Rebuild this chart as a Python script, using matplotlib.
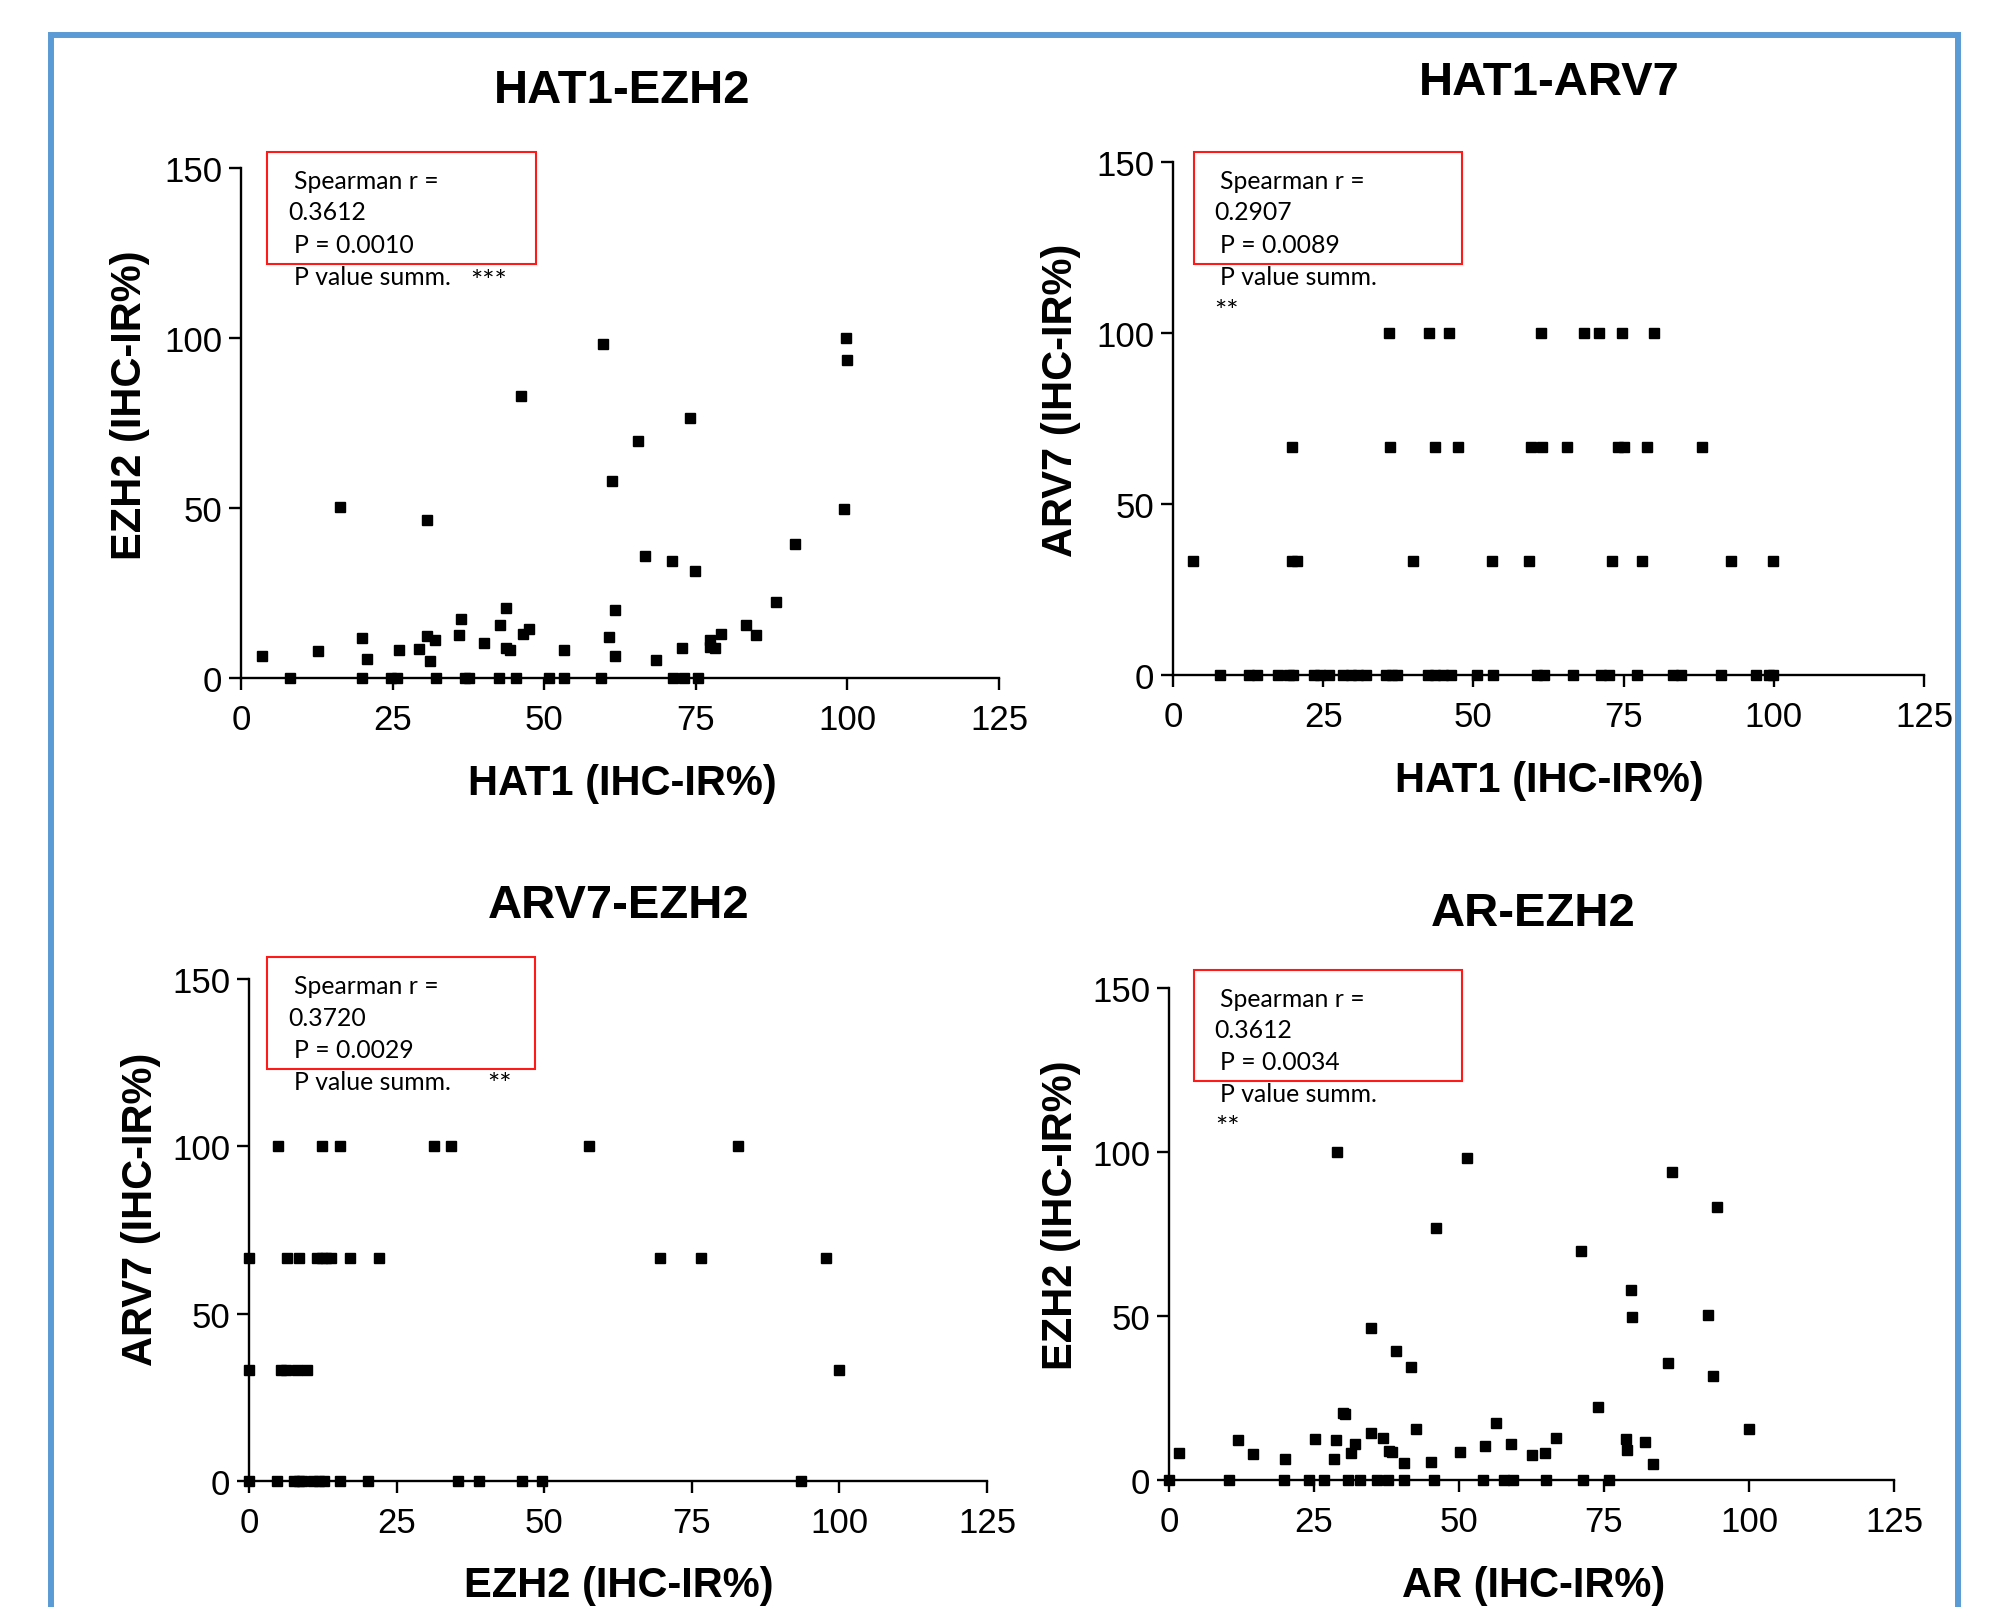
import matplotlib
matplotlib.use("Agg")
import matplotlib.pyplot as plt
from matplotlib.patches import Rectangle

# ---------------- data ----------------
# Panel 1: HAT1 vs EZH2
hat1_a = [3.4, 8.0, 12.7, 16.3, 19.9, 19.9, 20.7, 24.8, 25.8, 26.1,
          29.3, 30.6, 30.7, 31.1, 32.0, 32.2, 35.9, 36.2, 37.0, 37.6,
          40.0, 42.5, 42.7, 43.7, 43.7, 44.4, 45.3, 46.1, 46.5, 47.5,
          50.8, 53.2, 53.3, 59.4, 59.7, 60.7, 61.1, 61.7, 61.7, 65.5,
          66.7, 68.5, 71.1, 71.3, 72.8, 73.1, 74.0, 74.8, 75.3, 77.4,
          77.4, 78.2, 79.1, 83.3, 84.9, 88.2, 91.3, 99.4, 99.8, 100.0]
ezh2_a = [6.5, 0, 7.9, 50.3, 11.7, 0, 5.7, 0, 0, 8.2,
          8.4, 12.4, 46.5, 4.9, 11.1, 0, 12.7, 17.4, 0, 0,
          10.3, 0, 15.5, 20.6, 8.8, 8.3, 0, 83.0, 13.0, 14.4,
          0, 8.3, 0, 0, 98.1, 12.1, 57.9, 20.1, 6.5, 69.7,
          35.8, 5.2, 34.5, 0, 8.8, 0, 76.6, 31.6, 0, 11.1,
          9.0, 8.7, 13.0, 15.5, 12.6, 22.4, 39.3, 49.6, 100.0, 93.6]

# Panel 2: HAT1 vs ARV7
hat1_b_100 = [35.9, 42.6, 45.9, 61.2, 68.4, 70.9, 74.7, 80.1]
hat1_b_67 = [19.8, 36.1, 43.6, 47.4, 59.6, 61.5, 65.5, 74.0, 75.0, 78.9, 88.1]
hat1_b_33 = [3.3, 19.8, 20.6, 39.9, 53.1, 59.2, 73.0, 78.1, 92.8, 99.8]
hat1_b_0 = [7.8, 12.7, 14.0, 17.4, 19.3, 20.0, 23.4, 24.5, 25.9, 28.3,
            29.6, 30.8, 32.2, 35.4, 36.4, 37.3, 42.4, 43.6, 45.0, 46.3,
            50.6, 53.2, 60.6, 61.7, 66.5, 71.2, 72.6, 77.2, 83.2, 84.6,
            91.2, 97.1, 99.2, 99.9]
arv7_levels = [100.0, 66.7, 33.3, 0.0]

# Panel 3: EZH2 vs ARV7
ezh2_c_100 = [4.9, 12.4, 15.4, 31.3, 34.2, 57.6, 82.8]
ezh2_c_67 = [0, 6.4, 8.5, 11.5, 12.3, 13.0, 13.9, 17.1, 22.0, 69.6, 76.6, 97.8]
ezh2_c_33 = [0, 5.5, 6.3, 8.2, 9.9, 100.0]
ezh2_c_0 = [0, 4.7, 7.6, 8.4, 9.0, 10.9, 11.9, 12.7, 15.4, 20.1,
            35.4, 38.9, 46.2, 49.6, 93.5]

# Panel 4: AR vs EZH2
ar_d = [0, 1.7, 10.4, 11.9, 14.5, 19.8, 20.0, 24.1, 25.2, 26.7,
        28.5, 28.8, 29.0, 30.0, 30.4, 30.9, 31.3, 32.1, 32.9, 34.8,
        34.9, 35.8, 36.9, 37.7, 38.0, 38.5, 39.1, 40.5, 40.6, 41.8,
        42.6, 45.1, 45.7, 46.1, 50.1, 51.3, 54.2, 54.5, 56.4, 57.8,
        58.9, 59.3, 62.6, 64.9, 65.0, 66.7, 71.0, 71.4, 73.9, 75.9,
        78.8, 78.9, 79.7, 79.9, 82.0, 83.5, 86.1, 86.8, 93.0, 93.8,
        94.5, 100.0]
ezh2_d = [0, 8.3, 0, 12.1, 8.0, 0, 6.5, 0, 12.6, 0,
          6.5, 12.3, 100.0, 20.5, 20.0, 0, 8.3, 10.9, 0, 46.4,
          14.2, 0, 12.9, 0, 8.9, 8.6, 39.3, 5.1, 0, 34.4,
          15.5, 5.6, 0, 76.8, 8.6, 98.2, 0, 10.3, 17.4, 0,
          10.9, 0, 7.7, 8.3, 0, 12.9, 69.8, 0, 22.2, 0,
          12.6, 9.1, 57.9, 49.7, 11.5, 4.8, 35.6, 93.9, 50.2, 31.6,
          83.1, 15.5]

titles = ["HAT1-EZH2", "HAT1-ARV7", "ARV7-EZH2", "AR-EZH2"]
xlabels = ["HAT1 (IHC-IR%)", "HAT1 (IHC-IR%)", "EZH2 (IHC-IR%)", "AR (IHC-IR%)"]
ylabels = ["EZH2 (IHC-IR%)", "ARV7 (IHC-IR%)", "ARV7 (IHC-IR%)", "EZH2 (IHC-IR%)"]
spearman_r = ["0.3612", "0.2907", "0.3720", "0.3612"]
p_values = ["0.0010", "0.0089", "0.0029", "0.0034"]
p_summ = ["***", "**", "**", "**"]
xticks = [0, 25, 50, 75, 100, 125]
yticks = [0, 50, 100, 150]

# ---------------- figure ----------------
W, H = 2006, 1608
fig = plt.figure(figsize=(W / 100, H / 100), dpi=100)
plt.rcParams["font.family"] = ["Liberation Sans", "DejaVu Sans"]

def fx(px):
    return px / W

def fy(py):
    return 1 - py / H

# axes boxes in pixels: left, right, bottom, top
boxes = [(241, 999, 679, 169), (1173, 1924, 676, 163),
         (249, 987, 1482, 980), (1169, 1894, 1481, 989)]
title_pos = [(0.503, 1.153), (0.501, 1.155), (0.501, 1.147), (0.503, 1.153)]
xlab_pos = [(0.503, -0.206), (0.501, -0.204), (0.501, -0.207), (0.503, -0.213)]
ylab_pos = [(-0.146, 0.537), (-0.149, 0.538), (-0.147, 0.544), (-0.149, 0.541)]

series_x = [hat1_a,
            hat1_b_100 + hat1_b_67 + hat1_b_33 + hat1_b_0,
            ezh2_c_100 + ezh2_c_67 + ezh2_c_33 + ezh2_c_0,
            ar_d]
series_y = [ezh2_a,
            [arv7_levels[0]] * len(hat1_b_100) + [arv7_levels[1]] * len(hat1_b_67)
            + [arv7_levels[2]] * len(hat1_b_33) + [arv7_levels[3]] * len(hat1_b_0),
            [arv7_levels[0]] * len(ezh2_c_100) + [arv7_levels[1]] * len(ezh2_c_67)
            + [arv7_levels[2]] * len(ezh2_c_33) + [arv7_levels[3]] * len(ezh2_c_0),
            ezh2_d]

for i, (l, r, b, t) in enumerate(boxes):
    ax = fig.add_axes([fx(l), fy(b), (r - l) / W, (b - t) / H])
    ax.plot(series_x[i], series_y[i], "s", color="black", ms=6.5,
            mec="black", clip_on=False, zorder=5)
    ax.set_xlim(0, 125)
    ax.set_ylim(0, 150)
    ax.set_xticks(xticks)
    ax.set_yticks(yticks)
    for s in ["top", "right"]:
        ax.spines[s].set_visible(False)
    for s in ["left", "bottom"]:
        ax.spines[s].set_linewidth(1.7)
    ax.tick_params(direction="out", length=8.5, width=1.7, labelsize=25)
    ax.tick_params(axis="x", pad=9.5)
    ax.tick_params(axis="y", pad=5)
    ax.set_title(titles[i], x=title_pos[i][0], y=title_pos[i][1], pad=0,
                 va="center", fontsize=34, fontweight="bold")
    ax.set_xlabel(xlabels[i], fontsize=30, fontweight="bold", va="center")
    ax.xaxis.set_label_coords(*xlab_pos[i])
    ax.set_ylabel(ylabels[i], fontsize=30, fontweight="bold", va="center", ha="center")
    ax.yaxis.set_label_coords(*ylab_pos[i])

# ---------------- stats annotation boxes ----------------
red_boxes = [(267, 536, 153, 265), (1194, 1462, 153, 265),
             (267, 535, 958, 1070), (1194, 1462, 971, 1082)]
line_base = [(189, 220, 253, 285), (189, 220, 253, 285),
             (994, 1026, 1058, 1090), (1007, 1038, 1070, 1102)]
text_x = [(294, 288), (1220, 1214), (294, 288), (1220, 1214)]
star_pos = [(470, 291), (1214, 321), (487, 1094), (1215, 1137)]
afont = ["Lato", "DejaVu Sans"]
afs = 17.8

for i in range(4):
    l, r, t, b = red_boxes[i]
    fig.add_artist(Rectangle((fx(l), fy(b)), (r - l) / W, (b - t) / H,
                             transform=fig.transFigure, fill=False,
                             edgecolor="#ff1a1a", linewidth=1.5))
    xa, xb = text_x[i]
    y1, y2, y3, y4 = line_base[i]
    fig.text(fx(xa), fy(y1), "Spearman r =", fontsize=afs, family=afont, va="baseline", ha="left")
    fig.text(fx(xb), fy(y2), spearman_r[i], fontsize=afs, family=afont, va="baseline", ha="left")
    fig.text(fx(xa), fy(y3), "P = " + p_values[i], fontsize=afs, family=afont, va="baseline", ha="left")
    fig.text(fx(xa), fy(y4), "P value summ.", fontsize=afs, family=afont, va="baseline", ha="left")
    sx, sy = star_pos[i]
    fig.text(fx(sx), fy(sy), p_summ[i], fontsize=21, family=afont, va="baseline", ha="left")

# ---------------- outer blue frame ----------------
fig.add_artist(Rectangle((fx(51), -0.05), (1958 - 51) / W, fy(36) + 0.05,
                         transform=fig.transFigure, fill=False,
                         edgecolor="#5b9bd5", linewidth=4.3))

fig.savefig("out.png", dpi=100)
